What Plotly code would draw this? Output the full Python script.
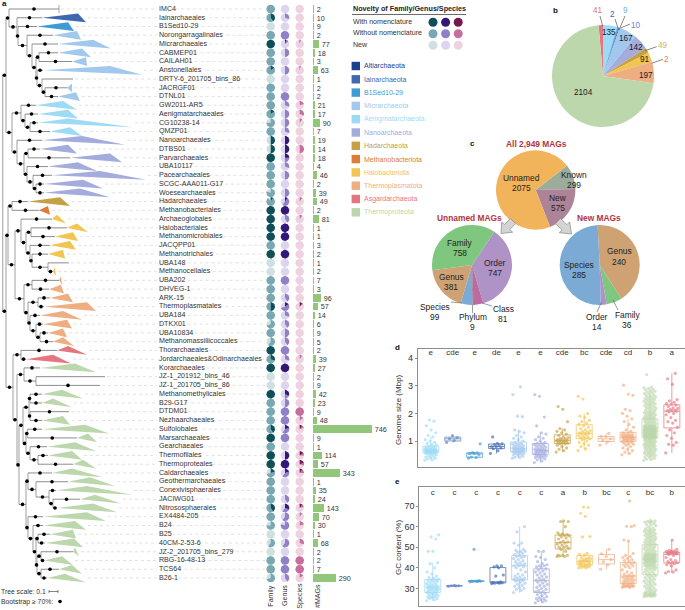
import math
import plotly.graph_objects as go

W, H = 685, 610
FONT = "Liberation Sans"
TEXT = "#333333"

# ---------- panel a: rows ----------
orders = ["IMC4","Iainarchaeales","B1Sed10-29","Norongarragalinales","Micrarchaeales","CABMEP01","CAILAH01",
 "Anstonellales","DRTY-6_201705_bins_86","JACRGF01","DTNL01","GW2011-AR5","Aenigmatarchaeales","CG10238-14","QMZP01",
 "Nanoarchaeales","DTBS01","Parvarchaeales","UBA10117","Pacearchaeales","SCGC-AAA011-G17","Woesearchaeales",
 "Hadarchaeales","Methanobacteriales","Archaeoglobales","Halobacteriales","Methanomicrobiales","JACQPP01",
 "Methanotrichales","UBA148","Methanocellales","UBA202","DHVEG-1","ARK-15","Thermoplasmatales","UBA184","DTKX01",
 "UBA10834","Methanomassiliicoccales","Thorarchaeales","Jordarchaeales&Odinarchaeales","Korarchaeales",
 "JZ-1_201912_bins_46","JZ-1_201705_bins_86","Methanomethylicales","B29-G17","DTDM01","Nezhaarchaeales","Sulfolobales",
 "Marsarchaeales","Gearchaeales","Thermofilales","Thermoproteales","Caldarchaeales","Geothermarchaeales",
 "Conexivisphaerales","JACIWG01","Nitrososphaerales","EX4484-205","B24","B25","40CM-2-53-6","JZ-2_201705_bins_279",
 "RBG-16-48-13","TCS64","B26-1"]
mags = [2,10,9,2,77,18,3,63,1,2,2,21,17,90,7,19,14,18,4,46,2,39,49,2,81,1,1,3,2,1,2,7,3,96,57,14,6,9,5,2,39,27,2,9,42,
 23,9,48,746,9,1,114,57,343,1,35,24,143,70,30,1,68,2,2,7,290]

# clade index for each order's collapsed wedge
clade = [0,1,2,3,3,3,3,3,3,3,3,4,4,4,4,5,5,5,5,5,5,5,6,7,8,8,8,8,8,8,8,9,9,9,9,9,9,9,9,10,10,
 11,11,11,11,11,11,11,11,11,11,11,11,11,11,11,11,11,11,11,11,11,11,11,11,11]
clade_names = ["Altiarchaeota","Iainarchaeota","B1Sed10-29","Micrarchaeota","Aenigmatarchaeota","Nanoarchaeota",
 "Hadarchaeota","Methanobacteriota","Halobacteriota","Thermoplasmatota","Asgardarchaeota","Thermoproteota"]
clade_colors = ["#17418F","#3F68AE","#3F9BD4","#A3C8EE","#9DDAF6","#A3ACDD","#C6A044","#DE7B36","#F2C450","#EFAE82",
 "#E6767E","#BDD7AC"]

# branch tip, far edge of the wedge on its upper and lower side (tree units)
tip_len = [59,42,37,53,58,58,72,43,73,67,58,36,38,38,50,42,40,70,48,52,44,44,28,39,52,67,55,50,48,69,53,59,49,50,44,40,43,
 48,53,57,26,40,105,100,42,42,69,42,42,77,47,48,73,52,68,56,80,57,43,43,50,45,73,44,59,47]
wedge_up = [None,78,68,77,93,82,86,110,None,72,76,63,68,68,70,82,68,110,78,100,83,80,60,48,57,77,73,70,63,None,55,61,61,68,
 87,63,67,63,63,68,53,75,None,None,62,53,None,63,85,88,75,72,83,72,90,87,95,93,87,75,73,74,75,62,72,65]
wedge_lo = [None,86,74,81,111,91,87,142,None,72,80,77,78,133,82,125,77,122,97,146,103,110,70,50,66,88,78,76,65,None,56,62,64,
 73,96,82,72,67,74,87,71,96,None,None,83,72,None,70,109,97,96,82,96,103,115,132,121,117,106,86,76,83,79,73,82,86]
no_dot_rows = [9, 30, 43]

# tree: [node position, children...]; an integer child is a row number
tree = [2.7,
  [6,
    [9, 1, [17, 2, [18, 3, [27, 4, [32, 5, [36,
        [39, 6, 7],
        [37, 8, [42, 9, [45, 10, 11]]]]]]]]],
    [12,
      [21, 12, [25, 13, [30, 14, 15]]],
      [17, 16, [24, [28, 17, 18], [27, 19, [33, 20, [36, 21, 22]]]]]]],
  [6,
    [8,
      [12, 23, 24],
      [15,
        [21, 25, [26, [31, 26, 27], [30, 28, [32, 29, [48, 30, 31]]]]],
        [24, [32, 32, 33],
             [28, [38, 34, 35], [30, 36, [36, 37, [40, 38, 39]]]]]]],
    [13,
      [21, 40, 41],
      [17,
        [24, 42, [36, 43, 44]],
        [19,
          [23, [29, [30, 45, 46], [30, 47, 48]],
               [26, [27.5, 49, 50], [30, 51, [38, 52, 53]]]],
          [26, [28, 54, [36, 55, [49, 56, [53, 57, 58]]]],
               [28, 59, [33, 60, [36, [38, 61, 62], [37, [41, 63, 64], [41, 65, 66]]]]]]]]]]]

# fractions of each circle: with nomenclature / without nomenclature; the rest is "new"
family_with = [0,.4,0,0,1,0,0,.15,0,0,0,0,.15,0,0,.5,.5,1,0,0,0,0,.1,1,1,1,1,0,1,0,0,0,0,0,.5,0,0,0,0,1,.3,1,0,0,1,0,0,0,.4,1,0,1,1,.2,
 0,0,0,.4,0,0,0,0,0,0,0,0]
family_wo = [1,.6,0,1,0,1,1,.85,0,1,1,1,.85,.75,1,0,0,0,1,1,1,.8,.8,0,0,0,0,1,0,0,0,1,1,1,.5,1,.7,1,.6,0,.7,0,0,0,0,1,1,1,.6,0,1,0,0,.5,
 1,1,1,.6,1,.75,0,.6,0,1,1,.7]
genus_with = [0,0,0,0,.05,0,0,0,0,0,0,0,0,0,0,.5,.5,.25,0,0,0,0,.1,1,0,1,1,0,1,0,0,0,0,0,.15,0,0,0,0,0,0,1,0,0,.3,0,0,0,.2,0,0,.5,1,.2,
 0,0,0,.3,0,0,0,0,0,0,0,0]
genus_wo = [0,.3,0,1,.1,.5,0,.5,0,0,1,.3,.5,.5,.3,0,0,.25,.3,.5,0,.5,.5,0,.4,0,0,0,0,0,0,1,0,.4,.55,.3,.4,.5,.4,1,.3,0,0,0,.2,.5,1,1,.4,1,0,0,0,.4,
 0,0,.4,.3,.6,.8,0,.6,0,1,1,.4]
species_with = [0,0,0,0,.03,0,0,.03,0,0,0,0,0,0,0,0,0,0,0,0,0,0,0,0,0,0,0,0,0,0,0,0,0,0,.1,0,0,0,0,0,0,0,0,0,0,0,0,0,.1,0,0,.15,.2,.1,
 0,0,0,.1,0,0,0,0,0,0,0,0]
species_wo = [0,0,0,0,0,0,0,0,0,0,0,.2,.3,.1,0,0,.5,0,0,0,0,0,.1,0,.1,0,0,0,0,0,0,0,0,0,.05,0,0,0,0,0,.1,0,0,0,0,0,1,.15,.1,0,0,.1,.1,.15,
 0,0,0,.1,.1,.2,0,.3,0,1,1,.15]

# ---------- panel b ----------
b_names = ["Asgardarchaeota","Aenigmatarchaeota","Altiarchaeota","B1Sed10-29","Iainarchaeota","Micrarchaeota","Nanoarchaeota",
 "Hadarchaeota","Halobacteriota","Methanobacteriota","Thermoplasmatota","Thermoproteota"]
b_vals = [41,135,2,9,10,167,142,49,91,2,197,2104]

# ---------- panel c ----------
c_all_names, c_all_vals = ["Known","New","Unnamed"], [299,575,2075]
c_unnamed_names, c_unnamed_vals = ["Order","Class","Phylum","Species","Genus","Family"], [747,81,9,99,381,758]
c_new_names, c_new_vals = ["Genus","Family","Order","Species"], [240,36,14,285]

# ---------- panels d, e ----------
box_colors = ["#9DDAF6","#5F82C0","#3F9BD4","#3F68AE","#A3C8EE","#A3ACDD","#C6A044","#F2C450","#EFAE82","#EFAE82","#BDD7AC","#E6767E"]
d_letters = ["e","cde","e","de","e","e","cde","bc","cde","cd","b","a"]
e_letters = ["c","c","c","c","c","c","a","b","bc","c","bc","b"]

genome_size = [
 [0.30,0.32,0.35,0.38,0.40,0.42,0.45,0.47,0.50,0.52,0.54,0.55,0.56,0.57,0.58,0.59,0.60,0.60,0.61,0.62,0.62,0.63,0.64,0.64,0.65,0.65,0.66,0.66,0.67,0.68,0.68,0.69,0.70,0.71,0.72,0.73,0.74,0.75,0.77,0.78,0.80,0.82,0.85,0.88,0.92,0.95,1.00,1.05,1.15,1.20,1.30,1.40,1.55,1.72,1.76],
 [0.95,1.02,1.08,1.12,1.20],
 [0.38,0.40,0.42,0.50,0.55,0.55,0.57,0.58,0.90],
 [0.55,0.65,0.72,0.75,0.80,0.80,0.85,0.87,0.90,0.92,1.15],
 [0.38,0.40,0.42,0.45,0.48,0.50,0.52,0.54,0.55,0.56,0.58,0.60,0.61,0.62,0.64,0.65,0.66,0.67,0.68,0.69,0.70,0.70,0.72,0.73,0.74,0.75,0.76,0.78,0.80,0.82,0.84,0.85,0.87,0.88,0.90,0.92,0.95,1.00,1.05,1.10,1.15,1.20,1.30,1.35,1.40,1.88,1.90,2.68,2.96],
 [0.22,0.28,0.32,0.35,0.38,0.40,0.42,0.44,0.45,0.46,0.48,0.50,0.52,0.54,0.55,0.56,0.58,0.60,0.60,0.62,0.63,0.64,0.65,0.66,0.68,0.70,0.72,0.74,0.76,0.78,0.80,0.82,0.84,0.86,0.88,0.90,0.92,0.95,1.00,1.05,1.10,1.15,1.25,1.30,1.55,1.87,2.62,2.68],
 [0.60,0.65,0.70,0.75,0.80,0.85,0.90,0.90,0.92,0.94,0.95,0.96,0.98,1.00,1.00,1.02,1.03,1.05,1.06,1.08,1.10,1.12,1.15,1.20,1.25,1.30,1.35,1.40,1.45,1.70,2.15,2.25],
 [0.65,0.72,0.80,0.85,0.90,0.95,1.00,1.05,1.08,1.10,1.12,1.15,1.17,1.20,1.22,1.25,1.27,1.28,1.30,1.32,1.35,1.38,1.40,1.45,1.50,1.55,1.60,1.65,1.70,1.75,1.85,1.90,2.00,2.52,2.62],
 [0.85,0.97,1.02,1.08,1.15,1.17,1.28],
 [0.50,0.55,0.60,0.65,0.70,0.75,0.80,0.85,0.88,0.90,0.92,0.95,0.97,0.98,1.00,1.02,1.03,1.04,1.05,1.06,1.07,1.08,1.09,1.10,1.11,1.12,1.13,1.14,1.15,1.16,1.17,1.18,1.19,1.20,1.21,1.22,1.23,1.25,1.27,1.30,1.35,1.40,1.50,1.60,1.70,1.80,1.90,2.00,2.10,2.15,2.65,2.70,3.02],
 [0.30,0.35,0.40,0.45,0.48,0.52,0.55,0.58,0.60,0.63,0.66,0.68,0.70,0.72,0.75,0.77,0.79,0.81,0.83,0.85,0.87,0.89,0.91,0.93,0.95,0.97,0.99,1.01,1.03,1.05,1.07,1.09,1.10,1.12,1.14,1.16,1.17,1.18,1.20,1.21,1.22,1.24,1.25,1.26,1.28,1.29,1.30,1.31,1.33,1.34,1.35,1.36,1.37,1.38,1.39,1.41,1.42,1.43,1.45,1.46,1.47,1.49,1.50,1.52,1.53,1.55,1.57,1.59,1.62,1.65,1.68,1.71,1.74,1.77,1.80,1.83,1.86,1.89,1.92,1.95,1.98,2.01,2.04,2.08,2.12,2.16,2.20,2.24,2.28,2.32,2.36,2.40,2.44,2.48,2.52,2.56,2.60,2.65,2.70,2.75,2.80,2.85,2.90,2.95,3.40,
  0.33,0.38,0.42,0.47,0.50,0.54,0.57,0.61,0.65,0.69,0.74,0.78,0.82,0.86,0.90,0.94,0.98,1.02,1.06,1.08,1.11,1.13,1.15,1.19,1.23,1.27,1.32,1.40,1.44,1.48,1.51,1.54,1.56,1.60,1.63,1.66,1.69,1.72,1.75,1.78,1.81,1.84,1.87,1.90,1.93,1.96,2.00,2.03,2.06,2.10,2.14,2.18,2.22,2.26,2.30,2.34,2.38,2.42,2.46,2.50,2.54,2.58,2.62,2.67,2.72,2.77,2.82,2.87,2.92,
  1.15,1.18,1.22,1.25,1.27,1.30,1.32,1.34,1.35,1.36,1.37,1.38,1.40,1.42,1.44,1.46,1.48,
  1.11,1.12,1.13,1.14,1.15,1.16,1.17,1.18,1.19,1.20,1.21,1.22,1.23,1.24,1.25,1.26,1.27,1.28,1.29,1.30,1.31,1.32,1.33,1.34,1.35,1.36,1.37,1.38,1.39,1.40,1.41,1.42,1.43,1.44,1.45,1.46,1.47,1.48,1.49,1.50,1.51,1.52,1.53,1.54,1.55],
 [0.57,0.85,0.88,0.95,1.10,1.20,1.30,1.40,1.50,1.65,1.70,1.75,1.85,1.95,2.00,2.05,2.08,2.10,2.10,2.12,2.15,2.18,2.20,2.25,2.30,2.33,2.35,2.40,2.45,2.50,3.05,3.25,3.45],
]
gc_content = [
 [24,24.5,25,25,25.5,25.8,26,26,26.5,26.8,27,27.2,27.5,28,28,28.3,28.6,28.8,29,29.2,29.4,29.6,29.8,30,30,30.2,30.4,30.6,30.8,31,31.2,31.5,31.8,32,32.3,32.6,33,33.3,33.6,34,34,34.3,34.5,35,35.5,36,37,38,40,42,42.5,48,48,54,55,56],
 [31,31.2,31.3,31.3,31.5],
 [33.2,33.3,33.4,33.5,33.5,33.6,33.8,49],
 [32.3,32.5,32.5,32.7,32.8,33,33.2,36,36.5,40,40.5,41,41],
 [28,29,29.5,30,30.5,31,31.5,32,32.5,33,33.5,34,34,34.5,34.5,35,35,35.5,36,36.5,37,38,39,40,40.5,41,41,41.5,42,42,42.5,43,43.5,44,44.5,45,45.5,45.5,46,46.5,47,47.5,48,48,48.5,49,51,52,52,57.5,60],
 [23,23.5,24,24,24.5,25,25,25.5,26,26.5,27,27.5,28,28.5,28.5,29,29.5,30,30.5,31,31.5,32,32.5,33,33.5,34,34,34.5,35,35.5,36,36.5,37,37.5,38,38.5,39,39.5,40,40.5,41,41,41.5,42,43,44,45,45.5,48,48],
 [45.5,45.5,45.8,46,46,46.2,48,49,49.5,50,50,50.5,51,51.5,52,52.3,52.6,53,54,54.5,55,55.5,55.8,56,56.2,56.5,57,60,62.5,62.5,62.8],
 [40,40,40.2,40.5,40.5,41,41,41,41.5,41.5,42,42,42.5,42.5,43,43,43,43.5,43.5,44,44,44.5,44.5,45,45,46,46.5,47,55,55.2,65,66.5,69.3,69.5],
 [39.3,41.5,43,44,45.5,46.8,49],
 [30.5,30.5,30.8,31,31,31,31.1,31.2,31.3,31.5,31.5,32,32,32.2,32.5,32.8,33,33.2,33.5,33.8,34,34.2,34.5,34.8,35,35.2,35.5,35.8,36,36.2,36.5,37,37.5,38,39,40,40.5,41,41,41.5,42,42,42.5,43,43.5,44,44.5,45,45.5,46,47,53,53.5,60,60.2,60.5,72.5],
 [26,26.2,26.5,26.8,27,27.2,27.5,27.8,28,28.3,28.6,29,29.5,30,30.5,31,31.5,32,32.5,33,33.5,34,34.5,35,35.5,36,36.5,37,37.5,38,38.5,39,39.3,39.6,40,40.3,40.6,41,41.3,41.6,42,42.2,42.5,42.7,43,43.2,43.4,43.6,43.8,44,44.2,44.4,44.6,44.8,45,45.2,45.4,45.6,45.8,46,46.2,46.4,46.6,46.8,47,47.5,48,48.5,49,49.5,50,50.5,51,51.5,52,52.5,53,53.5,54,54.5,55,55.5,56,56.5,57,57.5,58,58.5,59,60.5,61,62,62.3,62.6,63,
  26.1,26.3,26.4,26.6,26.9,27.1,27.4,27.6,28.2,29.2,30.2,31.2,32.2,33.2,34.2,35.2,36.2,37.2,38.2,39.2,
  40.1,40.5,40.9,41.2,41.5,41.8,42.1,42.4,42.6,42.8,43.1,43.3,43.5,43.7,43.9,44.1,44.3,44.5,44.7,44.9,45.1,45.3,45.5,45.7,45.9,46.1,46.3,46.5,46.7,46.9,
  47.2,47.8,48.3,48.8,49.3,49.8,50.3,50.8,51.3,51.8,52.3,52.8,53.3,53.8,54.3,54.8,55.3,55.8,56.3,56.8,57.3,57.8,58.3,58.8,59.3,59.8,60.8,61.5,62.2,62.8],
 [37.5,38,38.2,39,41,41.5,42,42.3,42.5,42.8,43,43.5,44,45,46,46.5,46.8,47,47,47.2,47.3,47.5,47.5,47.6,47.8,48,48,48.2,48.5,49,53.5],
]

# ---------- layout helpers ----------
ROW0, ROW_H = 9.0, 8.754
n = len(orders)
rows = list(range(1, n + 1))
def py_row(py):
    return 1 + (py - ROW0) / ROW_H

fig = go.Figure()
notes, shapes = [], []

def note(px, py, text, size=7.1, color=TEXT, anchor="left", bold=False, angle=0):
    notes.append(dict(x=px / W, y=1 - py / H, xref="paper", yref="paper", showarrow=False, text=f"<b>{text}</b>" if bold else text,
                      xanchor=anchor, yanchor="middle", textangle=angle, borderpad=0,
                      font=dict(size=size, color=color, family=FONT)))
def seg(x0, y0, x1, y1, color="#555555", width=0.7):
    shapes.append(dict(type="line", xref="paper", yref="paper", x0=x0 / W, x1=x1 / W, y0=1 - y0 / H, y1=1 - y1 / H,
                       line=dict(color=color, width=width), layer="above"))
def block_arrow(bx, by, tx, ty):
    dx, dy = tx - bx, ty - by
    L = math.hypot(dx, dy); ux, uy = dx / L, dy / L; nx, ny = -uy, ux
    neck = 0.48 * L
    pts = [(bx + nx * 3.6, by + ny * 3.6), (bx + ux * neck + nx * 3.6, by + uy * neck + ny * 3.6),
           (bx + ux * neck + nx * 7.5, by + uy * neck + ny * 7.5), (tx, ty),
           (bx + ux * neck - nx * 7.5, by + uy * neck - ny * 7.5), (bx + ux * neck - nx * 3.6, by + uy * neck - ny * 3.6),
           (bx - nx * 3.6, by - ny * 3.6)]
    path = "M " + " L ".join(f"{p[0] / W:.5f} {1 - p[1] / H:.5f}" for p in pts) + " Z"
    shapes.append(dict(type="path", xref="paper", yref="paper", path=path, fillcolor="#D4D4D4",
                       line=dict(color="#8A8A8A", width=0.7), layer="above"))

# ---------- tree ----------
hx, hy, vx, vy, dotx, doty = [], [], [], [], [], []
def walk(node):
    if isinstance(node, int):
        return tip_len[node - 1], float(node)
    x = node[0]
    kids = [walk(c) for c in node[1:]]
    ys = [k[1] for k in kids]
    y = (min(ys) + max(ys)) / 2
    vx.extend([x, x, None]); vy.extend([min(ys), max(ys), None])
    for c, (kx, ky) in zip(node[1:], kids):
        hx.extend([x, kx, None]); hy.extend([ky, ky, None])
        if not (isinstance(c, int) and c in no_dot_rows):
            dotx.append((x + kx) / 2); doty.append(ky)
    return x, y
walk(tree)

# guide dashes, either side of the label
gx, gy = [], []
for i, name in enumerate(orders):
    far = max(v for v in [tip_len[i], wedge_up[i], wedge_lo[i]] if v is not None) + 2
    if far < 157:
        gx.extend([far, 157, None]); gy.extend([i + 1, i + 1, None])
    gx.extend([161 + len(name) * 3.45, 265, None]); gy.extend([i + 1, i + 1, None])
fig.add_trace(go.Scatter(x=gx, y=gy, mode="lines", line=dict(color="#CFCFCF", width=0.6, dash="3px,3px"), hoverinfo="skip"))

# collapsed clades
for c, col in enumerate(clade_colors):
    wx, wy = [], []
    for i in range(n):
        if clade[i] == c and wedge_up[i] is not None:
            wx.extend([tip_len[i], wedge_up[i], wedge_lo[i], tip_len[i], None])
            wy.extend([i + 1, i + 0.5, i + 1.5, i + 1, None])
    if wx:
        fig.add_trace(go.Scatter(x=wx, y=wy, mode="lines", fill="toself", fillcolor=col, line=dict(width=0), hoverinfo="skip", name=clade_names[c]))

fig.add_trace(go.Scatter(x=vx, y=vy, mode="lines", line=dict(color="#B5B5B5", width=1.3), hoverinfo="skip"))
fig.add_trace(go.Scatter(x=hx, y=hy, mode="lines", line=dict(color="#707070", width=0.8), hoverinfo="skip"))
fig.add_trace(go.Scatter(x=[tip_len[0], tip_len[0]], y=[0.55, 1.45], mode="lines", line=dict(color="#909090", width=0.8), hoverinfo="skip"))
fig.add_trace(go.Scatter(x=dotx, y=doty, mode="markers", marker=dict(color="black", size=3.6), hoverinfo="skip"))
fig.add_trace(go.Scatter(x=[159] * n, y=rows, mode="text", text=orders, textposition="middle right",
                         textfont=dict(size=7.1, color=TEXT, family=FONT), hoverinfo="skip"))

# ---------- novelty circles ----------
def wedge(cx, row, a0, a1, r=4.35):
    steps = max(2, int(48 * (a1 - a0)) + 1)
    ang = [a0 + (a1 - a0) * k / steps for k in range(steps + 1)]
    xs = [cx + r * math.sin(2 * math.pi * t) for t in ang]
    ys = [row - r / ROW_H * math.cos(2 * math.pi * t) for t in ang]
    if a1 - a0 < 0.999:
        xs = [cx] + xs + [cx]; ys = [row] + ys + [row]
    return xs + [None], ys + [None]

columns = [(270.7, family_with, family_wo, ("#0E4F5A", "#78A8B2", "#CFE0E3")),
           (285.0, genus_with, genus_wo, ("#33187A", "#9080C8", "#DDD5EE")),
           (299.7, species_with, species_wo, ("#7A1550", "#C76E9F", "#EFD2E0"))]
for cx, fw, fo, cols in columns:
    lx, ly, mx, my, dx, dy = [], [], [], [], [], []
    for i in range(n):
        a, b = wedge(cx, i + 1, 0, 1); lx += a; ly += b
        if fw[i] > 0:
            a, b = wedge(cx, i + 1, 0, fw[i]); dx += a; dy += b
        if fo[i] > 0:
            a, b = wedge(cx, i + 1, fw[i], fw[i] + fo[i]); mx += a; my += b
    for xs, ys, col in ((lx, ly, cols[2]), (mx, my, cols[1]), (dx, dy, cols[0])):
        fig.add_trace(go.Scatter(x=xs, y=ys, mode="lines", fill="toself", fillcolor=col, line=dict(width=0), hoverinfo="skip"))

# ---------- #MAGs bars ----------
fig.add_trace(go.Bar(x=mags, y=rows, orientation="h", width=0.88, marker=dict(color="#92C77B", line=dict(width=0)),
                     text=[str(v) for v in mags], textposition="outside", cliponaxis=False, constraintext="none",
                     textfont=dict(size=7.2, color=TEXT, family=FONT), xaxis="x2", yaxis="y", hoverinfo="skip"))

# ---------- legends ----------
for j, cols in enumerate(c[3] for c in columns):
    for k, py in enumerate((22.3, 33.8, 45.3)):
        fig.add_trace(go.Scatter(x=[433 + 12.6 * j], y=[py_row(py)], mode="markers", marker=dict(color=cols[k], size=9), hoverinfo="skip"))
leg_y = [66, 79.3, 92.6, 105.9, 119.2, 132.5, 145.8, 159.1, 172.4, 185.7, 199, 212.3]
for c, (name, col) in enumerate(zip(clade_names, clade_colors)):
    fig.add_trace(go.Scatter(x=[355.8], y=[py_row(leg_y[c])], mode="markers", marker=dict(color=col, size=8.4, symbol="square"), hoverinfo="skip"))
    note(363, leg_y[c], name, 7, col)
note(352, 8.8, "Novelty of Family/Genus/Species", 7.2, "#222222", bold=True)
seg(352, 14.5, 466, 14.5, "#444444", 0.8)
note(352, 22, "With nomenclature"); note(352, 33.5, "Without nomenclature"); note(352, 45, "New")
note(1, 3, "a", 8, "#111111", bold=True); note(555, 11, "b", 8, "#111111", anchor="center", bold=True)
note(472, 144, "c", 8, "#111111", anchor="center", bold=True); note(397, 347, "d", 8, "#111111", anchor="center", bold=True)
note(397, 482, "e", 8, "#111111", anchor="center", bold=True)
for cx, lab in zip((270.7, 285, 299.7, 318), ("Family", "Genus", "Species", "#MAGs")):
    note(cx, 596, lab, 7.1, anchor="center", angle=-90)
note(0, 591, "Tree scale: 0.1", 6.8); note(0, 601.5, "Bootstrap ≥ 70%:", 6.8)
seg(49, 591.5, 58, 591.5, "#333333", 0.6); seg(49, 590, 49, 593, "#333333", 0.6); seg(58, 590, 58, 593, "#333333", 0.6)
fig.add_trace(go.Scatter(x=[60], y=[py_row(601.5)], mode="markers", marker=dict(color="black", size=3.6), hoverinfo="skip"))

# ---------- pies ----------
def pie(cx, cy, r, vals, names, cols, rotation):
    fig.add_trace(go.Pie(values=vals, labels=names, sort=False, direction="clockwise", rotation=rotation, textinfo="none",
                         marker=dict(colors=cols, line=dict(width=0)), hoverinfo="skip", showlegend=False,
                         domain=dict(x=[(cx - r) / W, (cx + r) / W], y=[1 - (cy + r) / H, 1 - (cy - r) / H])))

cc = dict(zip(clade_names, clade_colors))
pie(603, 76, 51, b_vals, b_names, [cc[k] for k in b_names], -5)
pie(535.7, 190, 39.7, c_all_vals, c_all_names, ["#9CAB9A", "#AD8398", "#F2B45A"], 52)
pie(472, 265, 40, c_unnamed_vals, c_unnamed_names, ["#AF93C6", "#B96CA0", "#B03030", "#7BAAD4", "#CFA274", "#7FC67F"], 34)
pie(599.7, 265, 40, c_new_vals, c_new_names, ["#CFA274", "#7FC67F", "#AF93C6", "#7BAAD4"], -3)

for px, py, t, col in ((598.3, 11, "41", "#E0707A"), (612.7, 14, "2", "#3D62A8"), (625.7, 11, "9", "#6CB6E8"), (635.7, 25, "10", "#6E85C8"),
                       (662.7, 45.7, "49", "#D4B266"), (666.7, 59, "2", "#E8884A")):
    note(px, py, t, 8.2, col, anchor="center")
for s in ((600, 16, 602.7, 26), (615, 19, 618, 28), (625, 16, 619, 30), (630, 24, 620.7, 28), (656.7, 46.7, 645, 50.7), (663, 59.3, 651.7, 63.3)):
    seg(*s)
for px, py, t in ((609, 32.7, "135"), (625.7, 38.3, "167"), (636.3, 47, "142"), (645.3, 59.3, "91"), (646, 75, "197"), (583, 92.3, "2104")):
    note(px, py, t, 8.2, "#1A1A1A", anchor="center")

RED = "#B5343C"
note(536, 144, "All 2,949 MAGs", 8.4, RED, anchor="center", bold=True)
note(469, 218, "Unnamed MAGs", 8.4, RED, anchor="center", bold=True)
note(599, 218, "New MAGs", 8.4, RED, anchor="center", bold=True)
for px, py, t in ((521, 178, "Unnamed"), (521, 188, "2075"), (574, 175, "Known"), (574, 185, "299"), (558, 198, "New"), (558, 208, "575"),
                  (460, 243, "Family"), (460, 253, "758"), (495, 263, "Order"), (495, 273, "747"), (451, 277, "Genus"), (451, 287, "381"),
                  (435, 307, "Species"), (435, 317, "99"), (473, 317, "Phylum"), (473, 327, "9"), (503, 309, "Class"), (503, 319, "81"),
                  (619, 251, "Genus"), (619, 262, "240"), (579, 265, "Species"), (579, 275, "285"), (597, 317, "Order"), (597, 327, "14"),
                  (627, 315, "Family"), (627, 325, "36")):
    note(px, py, t, 8.4, "#222222", anchor="center")
for s in ((451, 302, 462, 303), (472.5, 305, 472.5, 313), (482, 303, 492, 306), (601.5, 302, 597, 312), (613, 300, 618, 310)):
    seg(*s, "#555555", 0.6)
block_arrow(513, 221, 501, 233.5)
block_arrow(558, 221, 571.5, 234)

# ---------- strip + box panels ----------
def strips(data, xa, ya):
    for i, raw in enumerate(data):
        vals = sorted(raw)
        xs = [i + 0.56 * ((k * 0.618034) % 1 - 0.5) for k in range(len(vals))]
        fig.add_trace(go.Box(x0=i, y=vals, width=0.73, boxpoints="outliers", whiskerwidth=0, fillcolor="rgba(0,0,0,0)",
                             marker=dict(size=1, opacity=0), line=dict(color=box_colors[i], width=0.9), opacity=0.8,
                             xaxis=xa, yaxis=ya, hoverinfo="skip"))
        fig.add_trace(go.Scatter(x=xs, y=vals, mode="markers", marker=dict(color=box_colors[i], size=3.2, opacity=0.65, line=dict(width=0)),
                                 xaxis=xa, yaxis=ya, hoverinfo="skip"))
strips(genome_size, "x3", "y3")
strips(gc_content, "x4", "y4")
fig.add_trace(go.Scatter(x=list(range(12)), y=[4.2] * 12, mode="text", text=d_letters, textfont=dict(size=8, color=TEXT, family=FONT), xaxis="x3", yaxis="y3", hoverinfo="skip"))
fig.add_trace(go.Scatter(x=list(range(12)), y=[76.3] * 12, mode="text", text=e_letters, textfont=dict(size=8, color=TEXT, family=FONT), xaxis="x4", yaxis="y4", hoverinfo="skip"))
note(398, 410, "Genome size (Mbp)", 8, anchor="center", angle=-90)
note(398, 548, "GC content (%)", 8, anchor="center", angle=-90)

hidden = dict(visible=False, fixedrange=True)
panel_axis = dict(showline=True, mirror=True, linecolor="#8C8C8C", linewidth=1, showgrid=False, zeroline=False, fixedrange=True)
y_ticks = dict(ticks="outside", ticklen=2, tickcolor="#8C8C8C", tickfont=dict(size=9, color=TEXT, family=FONT))
fig.update_layout(
    width=W, height=H, margin=dict(l=0, r=0, t=0, b=0), paper_bgcolor="white", plot_bgcolor="rgba(0,0,0,0)",
    showlegend=False, boxmode="overlay", annotations=notes, shapes=shapes, bargap=0,
    xaxis=dict(domain=[0, 1], range=[0, W], **hidden),
    yaxis=dict(domain=[0, 1], range=[py_row(H), py_row(0)], **hidden),
    xaxis2=dict(domain=[312.7 / W, 1], range=[0, (W - 312.7) / 0.0791], anchor="y", **hidden),
    xaxis3=dict(domain=[417.7 / W, 1], range=[-0.6, 11.6], anchor="y3", showticklabels=False, ticks="", **panel_axis),
    yaxis3=dict(domain=[1 - 467 / H, 1 - 349 / H], range=[0.06, 4.33], anchor="x3", tickvals=[1, 2, 3, 4], **y_ticks, **panel_axis),
    xaxis4=dict(domain=[419.3 / W, 1], range=[-0.617, 11.61], anchor="y4", showticklabels=False, ticks="", **panel_axis),
    yaxis4=dict(domain=[1 - 605.7 / H, 1 - 486.7 / H], range=[21.6, 79.4], anchor="x4", tickvals=[30, 40, 50, 60, 70],
                ticktext=["30", "40", "50", "60", "70"], **y_ticks, **panel_axis),
)
fig.write_html("out.html", config={"displayModeBar": False},
               post_script="document.body.style.margin='0';document.body.style.overflow='hidden';")
